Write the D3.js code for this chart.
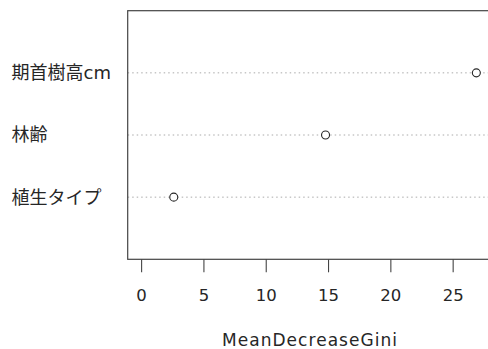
<!DOCTYPE html>
<html><head><meta charset="utf-8">
<script src="https://cdn.jsdelivr.net/npm/d3@7"></script>
<style>body{margin:0;background:#fff}</style>
</head><body>
<svg id="c" width="488" height="349"></svg>
<script>
const categories = ["植生タイプ", "林齢", "期首樹高cm"];
const values = [2.62, 14.8, 26.9];
const tickValues = [0, 5, 10, 15, 20, 25];
const xTitle = "MeanDecreaseGini";

(function(){
const svg = d3.select("#c");
const pL = 127.7, pR = 489.8, pT = 10.7, pB = 259.3;
const x = d3.scaleLinear().domain([-1.076, 27.98]).range([pL, pR]);
const y = d3.scaleLinear().domain([0, categories.length + 1]).range([pB, pT]);
const cjk = "'DejaVu Sans', 'Noto Sans CJK JP', sans-serif";
const lat = "'DejaVu Sans', sans-serif";
const ink = "#262626";

svg.selectAll("line.dot").data(categories).enter().append("line")
  .attr("x1", pL).attr("x2", pR)
  .attr("y1", (d,i)=>y(i+1)).attr("y2", (d,i)=>y(i+1))
  .attr("stroke", "#aaaaaa").attr("stroke-width", 1).attr("stroke-dasharray", "1.5,3");

svg.selectAll("circle").data(values).enter().append("circle")
  .attr("cx", d=>x(d)).attr("cy", (d,i)=>y(i+1)).attr("r", 4)
  .attr("fill", "#fff").attr("stroke", ink).attr("stroke-width", 1.1);

svg.append("rect").attr("x", pL).attr("y", pT).attr("width", pR-pL).attr("height", pB-pT)
  .attr("fill", "none").attr("stroke", "#444").attr("stroke-width", 1.2);

const ax = d3.axisBottom(x).tickValues(tickValues).tickSize(13).tickFormat(d3.format("d"));
const g = svg.append("g").attr("transform", `translate(0,${pB})`).call(ax);
g.select(".domain").remove();
g.selectAll(".tick line").attr("stroke", "#444").attr("stroke-width", 1.1);
g.selectAll(".tick text").attr("y", 42.2).attr("dy", 0)
  .attr("font-family", lat).attr("font-size", 16.5).attr("fill", ink);

svg.selectAll("text.lab").data(categories).enter().append("text")
  .attr("class","lab").attr("x", 11.5).attr("y", (d,i)=>y(i+1)).attr("dy", "0.36em")
  .attr("font-family", cjk).attr("font-size", 18).attr("fill", ink).text(d=>d);

svg.append("text").attr("x", 309.5).attr("y", 346)
  .attr("text-anchor","middle").attr("font-family", lat).attr("font-size", 17)
  .attr("textLength", 175).attr("lengthAdjust", "spacing")
  .attr("fill", ink).text(xTitle);
})();
</script>
</body></html>
